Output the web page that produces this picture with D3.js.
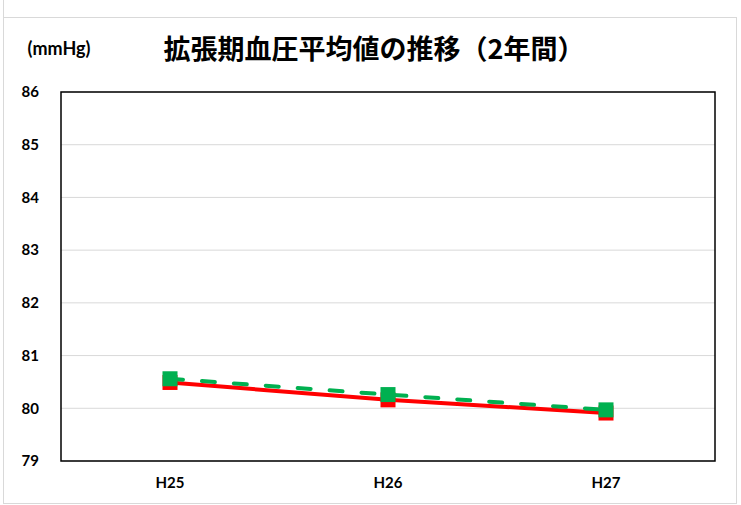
<!DOCTYPE html>
<html><head><meta charset="utf-8">
<script src="https://cdn.jsdelivr.net/npm/d3@7"></script>
<style>body{margin:0;background:#fff}svg{display:block}</style>
</head><body>
<svg id="c" width="741" height="505"></svg>
<script>
const categories = ["H25", "H26", "H27"];
const seriesRed = [80.49, 80.16, 79.91];
const seriesGreen = [80.56, 80.26, 79.97];
const yTicks = [79, 80, 81, 82, 83, 84, 85, 86];
const titleText = "拡張期血圧平均値の推移（2年間）";
const unitText = "(mmHg)";

const svg = d3.select("#c");
const L = 61, R = 715, T = 92, B = 461;

// outer border
svg.append("rect").attr("x", 3.5).attr("y", 17.5).attr("width", 733).attr("height", 486)
  .attr("fill", "none").attr("stroke", "#d9d9d9").attr("stroke-width", 1);
svg.append("line").attr("x1", 3.5).attr("x2", 3.5).attr("y1", 0).attr("y2", 17)
  .attr("stroke", "#d9d9d9");

const x = d3.scaleBand().domain(categories).range([L, R]);
const y = d3.scaleLinear().domain([79, 86]).range([B, T]);

// gridlines
svg.append("g").selectAll("line").data(yTicks).join("line")
  .attr("x1", L).attr("x2", R)
  .attr("y1", d => y(d)).attr("y2", d => y(d))
  .attr("stroke", "#d9d9d9").attr("stroke-width", 1);

// plot border
svg.append("rect").attr("x", L).attr("y", T).attr("width", R - L).attr("height", B - T)
  .attr("fill", "none").attr("stroke", "#000").attr("stroke-width", 1.5);

// y axis labels
const yAxis = d3.axisLeft(y).tickValues(yTicks).tickSize(0).tickPadding(0).tickFormat(d3.format("d"));
const gy = svg.append("g").attr("transform", `translate(39,0)`).call(yAxis);
gy.select(".domain").remove();
gy.selectAll("text").attr("font-family", "Lato, 'Open Sans', sans-serif")
  .attr("font-weight", "bold").attr("font-size", 15).attr("fill", "#000");

// x axis labels
const xAxis = d3.axisBottom(x).tickSize(0).tickPadding(0);
const gx = svg.append("g").attr("transform", `translate(0,477)`).call(xAxis);
gx.select(".domain").remove();
gx.selectAll("text").attr("font-family", "Lato, 'Open Sans', sans-serif")
  .attr("font-weight", "bold").attr("font-size", 15).attr("fill", "#000");

const cx = d => x(d) + x.bandwidth() / 2;
const line = d3.line().x(d => cx(d.c)).y(d => y(d.v));

function drawSeries(vals, color, dash) {
  const data = categories.map((c, i) => ({c, v: vals[i]}));
  const p = svg.append("path").datum(data).attr("d", line)
    .attr("fill", "none").attr("stroke", color).attr("stroke-width", 4);
  if (dash) p.attr("stroke-dasharray", dash).attr("stroke-linecap", "round");
  svg.append("g").selectAll("rect").data(data).join("rect")
    .attr("x", d => cx(d.c) - 7.5).attr("y", d => y(d.v) - 7.5)
    .attr("width", 15).attr("height", 15).attr("fill", color);
}
drawSeries(seriesRed, "#ff0000", null);
drawSeries(seriesGreen, "#00b050", "13,19");

// title
svg.append("text").attr("x", 374).attr("y", 59).attr("text-anchor", "middle")
  .attr("font-family", "'Noto Sans CJK JP', sans-serif").attr("font-weight", "bold")
  .attr("font-size", 27).attr("fill", "#000").text(titleText);

svg.append("text").attr("x", 59).attr("y", 55).attr("text-anchor", "middle")
  .attr("font-family", "Lato, 'Open Sans', sans-serif").attr("font-weight", "bold")
  .attr("font-size", 18).attr("fill", "#000").text(unitText);
</script>
</body></html>
